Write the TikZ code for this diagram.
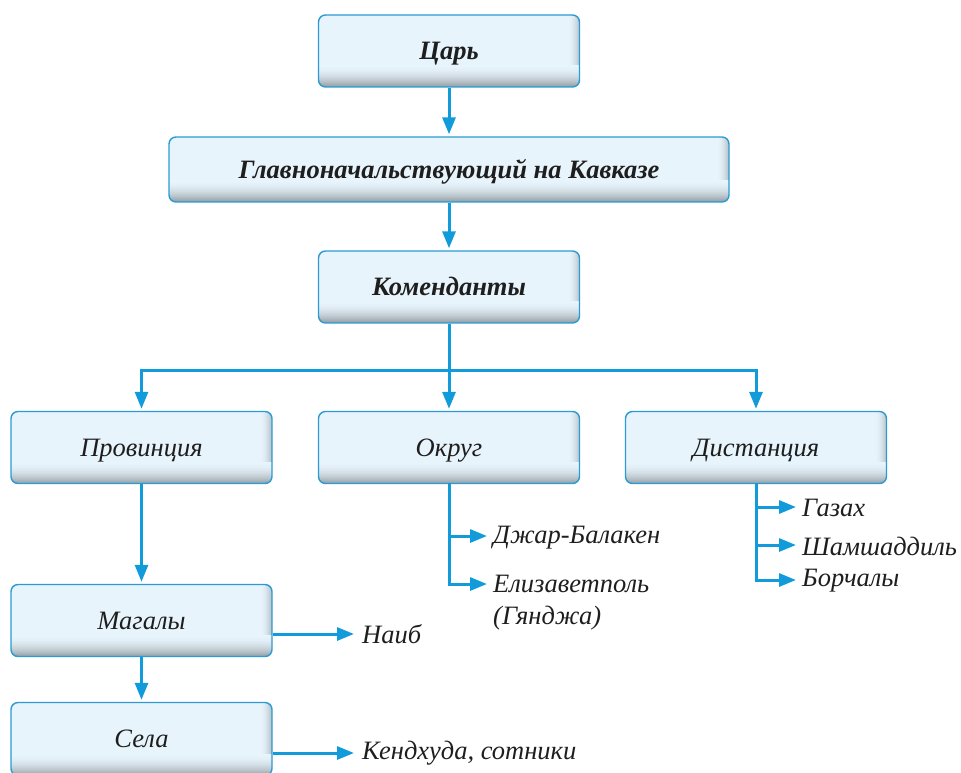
\documentclass[tikz,border=0pt]{standalone}
\usepackage{fontspec}
\setmainfont{Liberation Serif}
\usetikzlibrary{arrows.meta}
\definecolor{boxblue}{HTML}{2A9BD5}
\definecolor{boxfill}{HTML}{E8F4FB}
\definecolor{shadowgray}{HTML}{8E989F}
\definecolor{arrblue}{HTML}{119BDA}
\definecolor{txt}{HTML}{1E1E1E}
\begin{document}
\begin{tikzpicture}[x=1pt,y=-1pt,
  box/.style={draw=boxblue, line width=1.4pt, rounded corners=7pt, fill=boxfill,
    minimum width=261pt, minimum height=72pt, inner sep=0pt, text=txt,
    text height=20pt, text depth=2.5pt,
    font=\fontsize{26.5}{30}\selectfont\itshape,
    path picture={
      \foreach \w in {12,11,...,1}{
        \pgfmathtruncatemacro\p{(13-\w)*(13-\w)*0.38}
        \fill[sharp corners, shadowgray!\p!boxfill] ([xshift=-\w pt]path picture bounding box.south east) rectangle (path picture bounding box.north east);
      }
      \foreach \h in {22,21,...,1}{
        \pgfmathtruncatemacro\p{(23-\h)*(23-\h)*0.19}
        \fill[sharp corners, shadowgray!\p!boxfill] (path picture bounding box.south west) rectangle ([yshift=\h pt]path picture bounding box.south east);
      }
    }},
  boldbox/.style={box, font=\fontsize{26.5}{30}\selectfont\bfseries\itshape},
  arr/.style={draw=arrblue, line width=3pt, shorten >=2pt, -{Triangle[length=17pt,width=13pt]}},
  lab/.style={inner sep=0pt, anchor=west, text=txt, font=\fontsize{26.5}{30}\selectfont\itshape},
]
\useasboundingbox (0,0) rectangle (961,773);

\node[boldbox] (tsar) at (449,51) {Царь};
\node[boldbox, minimum width=560pt, minimum height=65pt] (glav) at (449,169.5) {Главноначальствующий на Кавказе};
\node[boldbox] (kom) at (449,287) {Коменданты};

\node[box] (prov) at (141.5,447.5) {Провинция};
\node[box] (okr) at (449,447.5) {Округ};
\node[box] (dist) at (756,447.5) {Дистанция};

\node[box] (mag) at (141.5,620.5) {Магалы};
\node[box, minimum height=73pt] (sela) at (141.5,739) {Села};

\node[lab] (naib) at (362,634) {Наиб};
\node[lab] (kend) at (362,753) {Кендхуда, сотники};

\node[lab] (djar) at (493,538) {Джар-Балакен};
\node[lab, anchor=north west, align=left, font=\fontsize{26.5}{32}\selectfont\itshape] (eliz) at (493,575) {Елизаветполь\\(Гянджа)};

\node[lab] (gaz) at (802,508) {Газах};
\node[lab] (sham) at (802,546) {Шамшаддиль};
\node[lab] (borch) at (802,581) {Борчалы};

\coordinate (br) at (449,370);

\draw[arr] (tsar) -- (glav);
\draw[arr] (glav) -- (kom);
\draw[arr] (kom) -- (okr);
\draw[arr] (br) -| (prov.north);
\draw[arr] (br) -| (dist.north);
\draw[arr] (prov) -- (mag);
\draw[arr] (mag) -- (sela);
\draw[arr] (mag.east |- naib.west) -- ([xshift=-6pt]naib.west);
\draw[arr] (sela.east |- kend.west) -- ([xshift=-6pt]kend.west);

\draw[arr] ([yshift=1pt]okr.south) |- ([xshift=-4pt,yshift=2pt]djar.west);
\draw[arr] ([yshift=1pt]okr.south) |- ([xshift=-4pt,yshift=-9pt]eliz.north west);

\draw[arr] ([yshift=1pt]dist.south) |- ([xshift=-4pt,yshift=1pt]gaz.west);
\draw[arr] ([yshift=1pt]dist.south) |- ([xshift=-4pt,yshift=1pt]sham.west);
\draw[arr] ([yshift=1pt]dist.south) |- ([xshift=-4pt,yshift=1pt]borch.west);
\end{tikzpicture}
\end{document}
